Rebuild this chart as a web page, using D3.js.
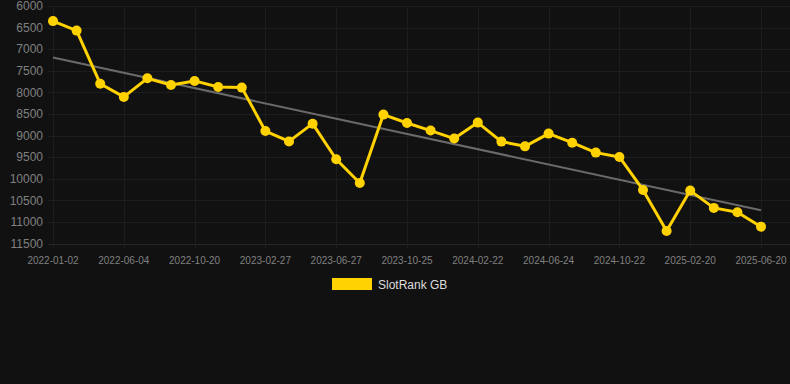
<!DOCTYPE html>
<html><head><meta charset="utf-8">
<script src="https://cdn.jsdelivr.net/npm/d3@7"></script>
<style>html,body{margin:0;padding:0;background:#111111;}svg{display:block;}</style>
</head><body>
<svg id="c" width="790" height="384"></svg>
<script>
const dates = ["2022-01-02","2022-02-22","2022-04-13","2022-06-04","2022-07-19","2022-09-04","2022-10-20","2022-12-03","2023-01-15","2023-02-27","2023-04-07","2023-05-17","2023-06-27","2023-08-06","2023-09-15","2023-10-25","2023-12-04","2024-01-13","2024-02-22","2024-04-02","2024-05-13","2024-06-24","2024-08-03","2024-09-12","2024-10-22","2024-12-01","2025-01-10","2025-02-20","2025-04-01","2025-05-11","2025-06-20"];
const rankGB = [6350,6570,7800,8105,7675,7830,7735,7875,7890,8895,9135,8725,9550,10100,8515,8710,8885,9070,8700,9140,9250,8955,9165,9395,9495,10260,11210,10275,10675,10775,11110];
const yTicks = [6000,6500,7000,7500,8000,8500,9000,9500,10000,10500,11000,11500];
const seriesName = "SlotRank GB";

const svg = d3.select("#c");
const W = 790, H = 384;
svg.append("rect").attr("width",W).attr("height",H).attr("fill","#111111");

const x = d3.scalePoint().domain(dates).range([53, 761]);
const y = d3.scaleLinear().domain([6000, 11500]).range([6, 243.5]);

const gridColor = "#1d1d1d";
// horizontal grid
svg.append("g").selectAll("line").data(yTicks).join("line")
  .attr("x1", 48).attr("x2", W)
  .attr("y1", d => Math.round(y(d)) + 0.5).attr("y2", d => Math.round(y(d)) + 0.5)
  .attr("stroke", d => d === 11500 ? "#262626" : gridColor).attr("stroke-width", 1);
// vertical grid
const xTickDates = dates.filter((d, i) => i % 3 === 0);
svg.append("g").selectAll("line").data(xTickDates).join("line")
  .attr("x1", d => Math.round(x(d)) + 0.5).attr("x2", d => Math.round(x(d)) + 0.5)
  .attr("y1", y(6000)).attr("y2", y(11500) + 5)
  .attr("stroke", gridColor).attr("stroke-width", 1);

// y labels
svg.append("g").selectAll("text").data(yTicks).join("text")
  .attr("x", 43).attr("y", d => y(d)).attr("dy", "0.35em")
  .attr("text-anchor", "end")
  .attr("font-family", "Liberation Sans, Arial, sans-serif").attr("font-size", 12)
  .attr("fill", "#808080").text(d => d);

// x labels
svg.append("g").selectAll("text").data(xTickDates).join("text")
  .attr("x", d => x(d)).attr("y", 260).attr("dy", "0.35em")
  .attr("text-anchor", "middle")
  .attr("font-family", "Liberation Sans, Arial, sans-serif").attr("font-size", 10)
  .attr("fill", "#808080").text(d => d);

// trend line (least squares over index)
const n = rankGB.length;
const xs = d3.range(n);
const mx = d3.mean(xs), my = d3.mean(rankGB);
const slope = d3.sum(xs, i => (i - mx) * (rankGB[i] - my)) / d3.sum(xs, i => (i - mx) * (i - mx));
const icpt = my - slope * mx;
svg.append("line")
  .attr("x1", x(dates[0])).attr("y1", y(icpt))
  .attr("x2", x(dates[n - 1])).attr("y2", y(icpt + slope * (n - 1)))
  .attr("stroke", "#6a6a6a").attr("stroke-width", 2);

const gold = "#FFD200";
svg.append("path").datum(rankGB)
  .attr("d", d3.line().x((d, i) => x(dates[i])).y(d => y(d)))
  .attr("fill", "none").attr("stroke", gold).attr("stroke-width", 3).attr("stroke-linejoin", "round");
svg.append("g").selectAll("circle").data(rankGB).join("circle")
  .attr("cx", (d, i) => x(dates[i])).attr("cy", d => y(d)).attr("r", 5)
  .attr("fill", gold);

// legend
svg.append("rect").attr("x", 332).attr("y", 278).attr("width", 40).attr("height", 12).attr("fill", gold);
svg.append("text").attr("x", 378).attr("y", 284.5).attr("dy", "0.35em")
  .attr("font-family", "Liberation Sans, Arial, sans-serif").attr("font-size", 12)
  .attr("fill", "#dddddd").text(seriesName);
</script>
</body></html>
